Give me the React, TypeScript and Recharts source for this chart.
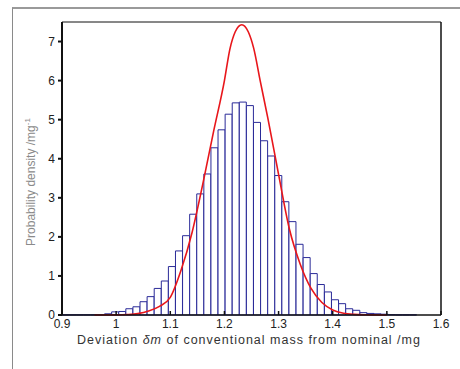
import React from "react";
import { ComposedChart, Bar, Line, XAxis, YAxis } from "recharts";

// histogram: 50 bins starting at 0.9 mg
const binStart = 0.9;
const binWidth = 0.0131;
const binDensity = [
  0.005, 0.005, 0.005, 0.005, 0.005, 0.005, 0.03, 0.08, 0.09, 0.16,
  0.21, 0.34, 0.47, 0.68, 0.87, 1.24, 1.64, 2.03, 2.58, 3.1,
  3.61, 4.28, 4.74, 5.14, 5.43, 5.45, 5.36, 4.93, 4.46, 4.07,
  3.57, 2.9, 2.39, 1.81, 1.47, 1.06, 0.78, 0.59, 0.39, 0.29,
  0.16, 0.12, 0.06, 0.04, 0.03, 0.02, 0.01, 0.005, 0.005, 0.005,
];

// red density curve
const curveX = [
  0.96, 0.98, 1.0, 1.02, 1.04, 1.06, 1.08, 1.1, 1.12, 1.14, 1.16, 1.18, 1.2, 1.21, 1.22, 1.232,
  1.244, 1.254, 1.266, 1.28, 1.3, 1.32, 1.34, 1.36, 1.38, 1.4, 1.42, 1.44, 1.46, 1.48, 1.5,
];
const curvePdf = [
  0, 0.002, 0.004, 0.012, 0.035, 0.1, 0.22, 0.45, 1.15, 2.1, 3.35, 4.7, 6.0, 6.8, 7.25, 7.43,
  7.25, 6.83, 6.0, 5.05, 3.6, 2.2, 1.3, 0.68, 0.32, 0.13, 0.045, 0.015, 0.005, 0.002, 0,
];

const xTicks = [0.9, 1, 1.1, 1.2, 1.3, 1.4, 1.5, 1.6];
const yTicks = [0, 1, 2, 3, 4, 5, 6, 7];

const bins = binDensity.map((d, i) => ({ x: binStart + (i + 0.5) * binWidth, density: d }));
const curve = curveX.map((x, i) => ({ x, pdf: curvePdf[i] }));

const W = 460;
const H = 369;
const margin = { top: 21, right: 18, bottom: 0, left: 0 };

const font = "'Liberation Sans', Arial, sans-serif";
const tickStyle = { fill: "#222", fontSize: 12, fontFamily: font };

export default function App() {
  return (
    <div style={{ position: "absolute", left: 0, top: 0, width: W, height: H, background: "#fff" }}>
      <div
        style={{
          position: "absolute", left: 12, top: 7, width: W, height: H,
          borderLeft: "1px solid #8a8a8a", borderTop: "2px solid #9a9a9a",
        }}
      />
      <ComposedChart width={W} height={H} data={bins} margin={margin} barCategoryGap={0} barGap={0}>
        <XAxis
          xAxisId="b" dataKey="x" type="number" domain={[0.9, 1.6]} ticks={xTicks}
          allowDataOverflow height={54} tickSize={-4} tickMargin={8}
          tick={tickStyle} stroke="#111" strokeWidth={1.5}
          tickFormatter={(v) => String(v)}
        />
        <XAxis
          xAxisId="t" orientation="top" dataKey="x" type="number" domain={[0.9, 1.6]}
          ticks={xTicks} allowDataOverflow height={1} tickSize={-4} tick={false} stroke="#111"
        />
        <YAxis
          yAxisId="l" type="number" domain={[0, 7.5]} ticks={yTicks} width={62}
          tickSize={4} tickMargin={3} tick={tickStyle} stroke="#111" strokeWidth={2}
        />
        <YAxis
          yAxisId="r" orientation="right" type="number" domain={[0, 7.5]} ticks={yTicks}
          width={1} tickSize={-4} tick={false} stroke="#111" strokeWidth={1.5}
        />
        <Bar
          xAxisId="b" yAxisId="l" dataKey="density"
          fill="#fff" stroke="#2a2a98" strokeWidth={1} isAnimationActive={false}
        />
        <Line
          xAxisId="t" yAxisId="l" data={curve} dataKey="pdf" type="monotone"
          stroke="#e8161b" strokeWidth={1.6} dot={false} isAnimationActive={false}
        />
      </ComposedChart>
      <div
        style={{
          position: "absolute", left: 30, top: 182, transform: "translate(-50%, -50%) rotate(-90deg)",
          whiteSpace: "nowrap", fontFamily: font, fontSize: 12, color: "#8a8a8a",
        }}
      >
        Probability density /mg<sup style={{ fontSize: 8 }}>-1</sup>
      </div>
      <div
        style={{
          position: "absolute", left: 249, top: 340, transform: "translate(-50%, -50%)",
          whiteSpace: "nowrap", fontFamily: font, fontSize: 12.5, letterSpacing: 1, color: "#333",
        }}
      >
        Deviation <i>&delta;m</i> of conventional mass from nominal /mg
      </div>
    </div>
  );
}
